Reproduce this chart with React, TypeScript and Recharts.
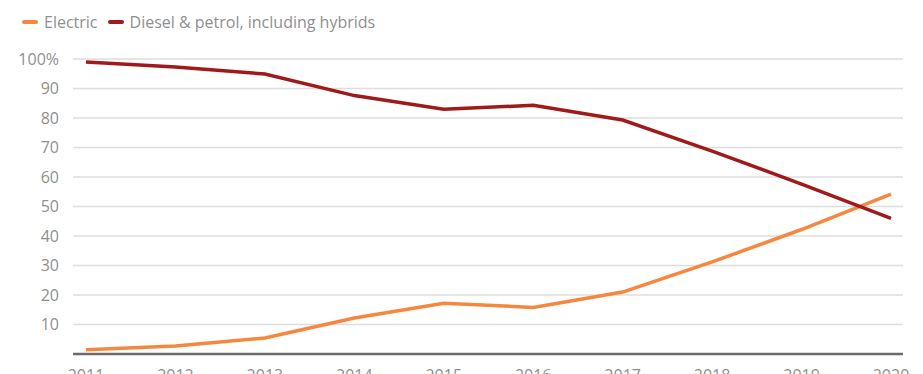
import { LineChart, Line, XAxis, YAxis, CartesianGrid, ReferenceLine } from 'recharts';

const years = ['2011', '2012', '2013', '2014', '2015', '2016', '2017', '2018', '2019', '2020'];
const electric = [1.4, 2.7, 5.4, 12.2, 17.2, 15.8, 21, 31.2, 42.2, 54.2];
const dieselPetrol = [99, 97.3, 94.9, 87.6, 83, 84.3, 79.3, 68.8, 57.6, 46];
const yTicks = [10, 20, 30, 40, 50, 60, 70, 80, 90, 100];

const ORANGE = '#f5873f';
const DARK_RED = '#9f1a1a';
const TEXT = '#8f8f8f';
const FONT = '"Open Sans", "Noto Sans", sans-serif';

const data = years.map((year, i) => ({
  year,
  electric: electric[i],
  diesel: dieselPetrol[i],
}));

const legendItems = [
  { label: 'Electric', color: ORANGE },
  { label: 'Diesel & petrol, including hybrids', color: DARK_RED },
];

function TopLegend() {
  return (
    <div
      style={{
        position: 'absolute',
        top: 11,
        left: 22,
        display: 'flex',
        alignItems: 'center',
        fontFamily: FONT,
        fontSize: 16,
        color: TEXT,
        zIndex: 1,
      }}
    >
      {legendItems.map(item => (
        <div key={item.label} style={{ display: 'flex', alignItems: 'center', marginRight: 10 }}>
          <span
            style={{
              display: 'inline-block',
              width: 16,
              height: 4,
              borderRadius: 2,
              background: item.color,
              marginRight: 6,
            }}
          />
          <span>{item.label}</span>
        </div>
      ))}
    </div>
  );
}

export default function App() {
  return (
    <div style={{ position: 'absolute', left: 0, top: 0, width: 923, height: 374, background: '#fff', overflow: 'hidden' }}>
      <TopLegend />
      <LineChart width={923} height={374} data={data} margin={{ top: 59, right: 20, left: 0, bottom: 0 }}>
        <CartesianGrid vertical={false} stroke="#dedede" strokeWidth={1.5} />
        <XAxis
          dataKey="year"
          axisLine={false}
          tickLine={false}
          height={20}
          tickMargin={10}
          padding={{ left: 13, right: 12 }}
          tick={{ fill: TEXT, fontSize: 16, fontFamily: FONT }}
          interval={0}
        />
        <YAxis
          domain={[0, 100]}
          ticks={yTicks}
          width={73}
          axisLine={false}
          tickLine={false}
          tickMargin={8}
          tickFormatter={(v: number) => (v === 100 ? '100%' : String(v))}
          tick={{ fill: TEXT, fontSize: 16, fontFamily: FONT }}
        />
        <ReferenceLine y={0} stroke="#6b6b6b" strokeWidth={2.5} />
        <Line
          type="linear"
          dataKey="electric"
          name="Electric"
          stroke={ORANGE}
          strokeWidth={3.5}
          dot={false}
          isAnimationActive={false}
        />
        <Line
          type="linear"
          dataKey="diesel"
          name="Diesel & petrol, including hybrids"
          stroke={DARK_RED}
          strokeWidth={3.5}
          dot={false}
          isAnimationActive={false}
        />
      </LineChart>
    </div>
  );
}
